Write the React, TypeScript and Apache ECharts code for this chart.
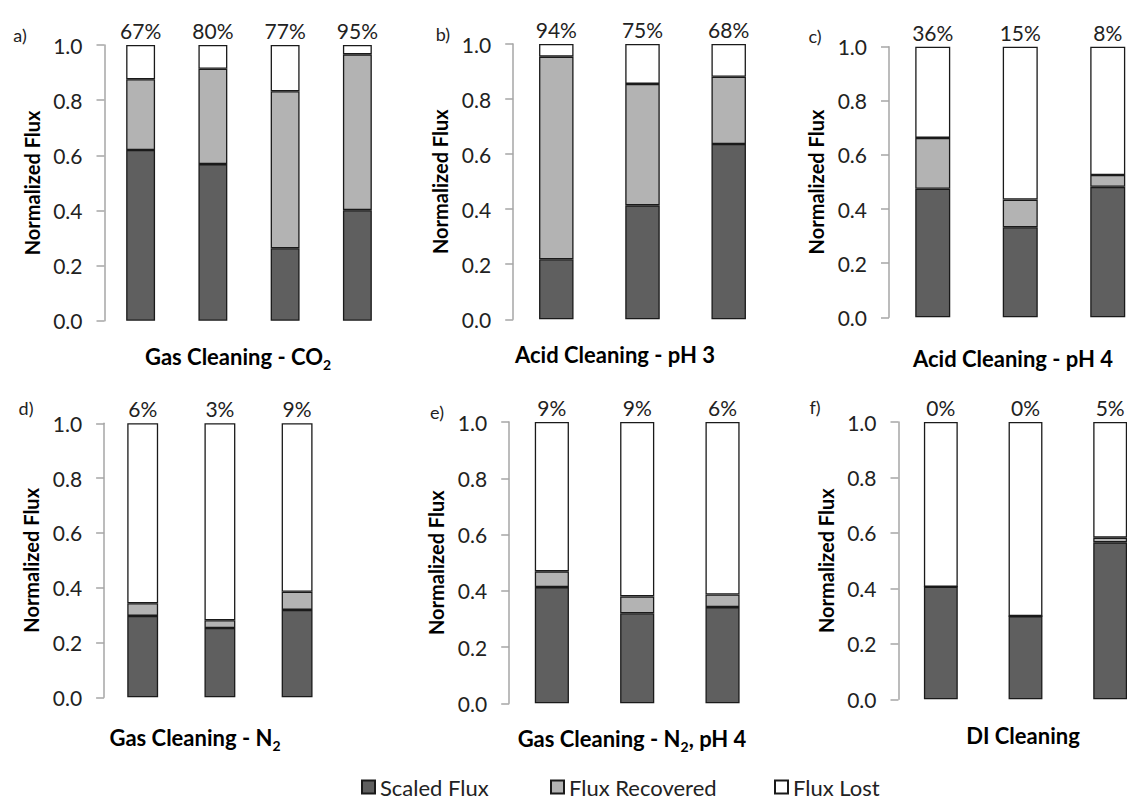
import React, { useEffect, useRef } from "react";
import * as echarts from "echarts";

// ---------- data ----------
const categories4 = ["1", "2", "3", "4"];
const categories3 = ["1", "2", "3"];

const scaledA = [0.619, 0.568, 0.263, 0.401];
const recoveredA = [0.257, 0.346, 0.569, 0.565];
const lostA = [0.124, 0.086, 0.168, 0.034];
const pctA = ["67%", "80%", "77%", "95%"];

const scaledB = [0.218, 0.414, 0.637];
const recoveredB = [0.736, 0.441, 0.244];
const lostB = [0.046, 0.145, 0.119];
const pctB = ["94%", "75%", "68%"];

const scaledC = [0.475, 0.333, 0.482];
const recoveredC = [0.188, 0.102, 0.044];
const lostC = [0.337, 0.565, 0.474];
const pctC = ["36%", "15%", "8%"];

const scaledD = [0.297, 0.253, 0.319];
const recoveredD = [0.046, 0.028, 0.066];
const lostD = [0.657, 0.719, 0.615];
const pctD = ["6%", "3%", "9%"];

const scaledE = [0.413, 0.32, 0.342];
const recoveredE = [0.056, 0.06, 0.045];
const lostE = [0.531, 0.62, 0.613];
const pctE = ["9%", "9%", "6%"];

const scaledF = [0.406, 0.3, 0.566];
const recoveredF = [0, 0, 0.017];
const lostF = [0.594, 0.7, 0.417];
const pctF = ["0%", "0%", "5%"];

const yTicks = { min: 0, max: 1, interval: 0.2 };
const seriesNames = ["Scaled Flux", "Flux Recovered", "Flux Lost"];
const panelLetters = ["a)", "b)", "c)", "d)", "e)", "f)"];
const panelTitles = [
  "{b|Gas Cleaning - CO}{s|2}",
  "{b|Acid Cleaning - pH 3}",
  "{b|Acid Cleaning - pH 4}",
  "{b|Gas Cleaning - N}{s|2}",
  "{b|Gas Cleaning - N}{s|2}{b|, pH 4}",
  "{b|DI Cleaning}",
];
const yAxisName = "Normalized Flux";

// ---------- style / layout ----------
const FONT = "Lato, 'Open Sans', sans-serif";
const TEXT = "#222222";
const DARK = "#5f5f5f";
const LIGHT = "#b3b3b3";
const WHITE = "#ffffff";
const EDGE = "#1a1a1a";
const AXIS = "#a6a6a6";

const panels = [
  { cats: categories4, data: [scaledA, recoveredA, lostA], pct: pctA,
    grid: { left: 104.5, top: 45, width: 289, height: 275.7 }, letterPos: [20, 35], titlePos: [238, 356] },
  { cats: categories3, data: [scaledB, recoveredB, lostB], pct: pctB,
    grid: { left: 513.2, top: 44, width: 258.6, height: 275.3 }, letterPos: [443, 34], titlePos: [615, 354] },
  { cats: categories3, data: [scaledC, recoveredC, lostC], pct: pctC,
    grid: { left: 889, top: 46.7, width: 262.5, height: 270.6 }, letterPos: [815, 36], titlePos: [1013, 358] },
  { cats: categories3, data: [scaledD, recoveredD, lostD], pct: pctD,
    grid: { left: 104.1, top: 423.3, width: 231.6, height: 274 }, letterPos: [26, 408], titlePos: [195, 737] },
  { cats: categories3, data: [scaledE, recoveredE, lostE], pct: pctE,
    grid: { left: 509.2, top: 422, width: 256, height: 281.3 }, letterPos: [437, 412], titlePos: [632, 738] },
  { cats: categories3, data: [scaledF, recoveredF, lostF], pct: pctF,
    grid: { left: 898.5, top: 422, width: 254, height: 277.3 }, letterPos: [815, 407], titlePos: [1023, 735] },
];

const fills = [DARK, LIGHT, WHITE];

function buildOption() {
  const grid: any[] = [];
  const xAxis: any[] = [];
  const yAxis: any[] = [];
  const series: any[] = [];
  const graphic: any[] = [];

  panels.forEach((p, i) => {
    grid.push({ ...p.grid, containLabel: false, outerBoundsMode: "none" });
    xAxis.push({
      type: "category",
      gridIndex: i,
      data: p.cats,
      axisLine: { show: false },
      axisTick: { show: false },
      axisLabel: { show: false },
      splitLine: { show: false },
    });
    yAxis.push({
      type: "value",
      gridIndex: i,
      min: yTicks.min,
      max: yTicks.max,
      interval: yTicks.interval,
      name: yAxisName,
      nameLocation: "middle",
      nameGap: 63,
      nameTextStyle: { fontFamily: FONT, fontSize: 20, fontWeight: "bold", color: "#000" },
      axisLine: { show: true, lineStyle: { color: AXIS, width: 1.5 } },
      axisTick: { show: true, length: 8, lineStyle: { color: AXIS, width: 1.5 } },
      axisLabel: {
        margin: 22,
        fontFamily: FONT,
        fontSize: 21,
        color: TEXT,
        formatter: (v: number) => v.toFixed(1),
      },
      splitLine: { show: false },
    });
    p.data.forEach((vals, k) => {
      series.push({
        type: "bar",
        name: seriesNames[k],
        xAxisIndex: i,
        yAxisIndex: i,
        stack: "s" + i,
        barWidth: "40%",
        data: vals,
        itemStyle: { color: fills[k], borderColor: EDGE, borderWidth: 1.3 },
        label:
          k === 2
            ? {
                show: true,
                position: "top",
                distance: 4,
                fontFamily: FONT,
                fontSize: 21,
                color: TEXT,
                formatter: (prm: any) => p.pct[prm.dataIndex],
              }
            : { show: false },
        emphasis: { disabled: true },
      });
    });
    graphic.push({
      type: "text",
      x: p.letterPos[0],
      y: p.letterPos[1],
      style: {
        text: panelLetters[i],
        fontFamily: FONT,
        fontSize: 18,
        fill: TEXT,
        align: "center",
        verticalAlign: "middle",
      },
    });
    graphic.push({
      type: "text",
      x: p.titlePos[0],
      y: p.titlePos[1],
      style: {
        text: panelTitles[i],
        align: "center",
        verticalAlign: "middle",
        rich: {
          b: { fontFamily: FONT, fontSize: 22, fontWeight: "bold", fill: "#000", lineHeight: 22, verticalAlign: "top" },
          s: { fontFamily: FONT, fontSize: 14, fontWeight: "bold", fill: "#000", lineHeight: 14, padding: [12, 0, 0, 0], verticalAlign: "top" },
        },
      },
    });
  });

  const legendBase = {
    orient: "horizontal",
    top: 776,
    padding: 0,
    icon: "rect",
    itemWidth: 13,
    itemHeight: 13,
    selectedMode: false,
    textStyle: { fontFamily: FONT, fontSize: 22, color: TEXT },
  };
  const legend = [
    { ...legendBase, left: 361, data: [seriesNames[0]] },
    { ...legendBase, left: 550, data: [seriesNames[1]] },
    { ...legendBase, left: 774, data: [seriesNames[2]] },
  ];

  return {
    animation: false,
    backgroundColor: "#ffffff",
    grid,
    xAxis,
    yAxis,
    series,
    legend,
    graphic,
  };
}

export default function App() {
  const ref = useRef<HTMLDivElement>(null);
  useEffect(() => {
    if (!ref.current) return;
    const chart = echarts.init(ref.current, undefined, { renderer: "svg" });
    chart.setOption(buildOption() as any);
    return () => chart.dispose();
  }, []);
  return (
    <div
      ref={ref}
      style={{ position: "fixed", left: 0, top: 0, width: 1127, height: 803, background: "#fff" }}
    />
  );
}
